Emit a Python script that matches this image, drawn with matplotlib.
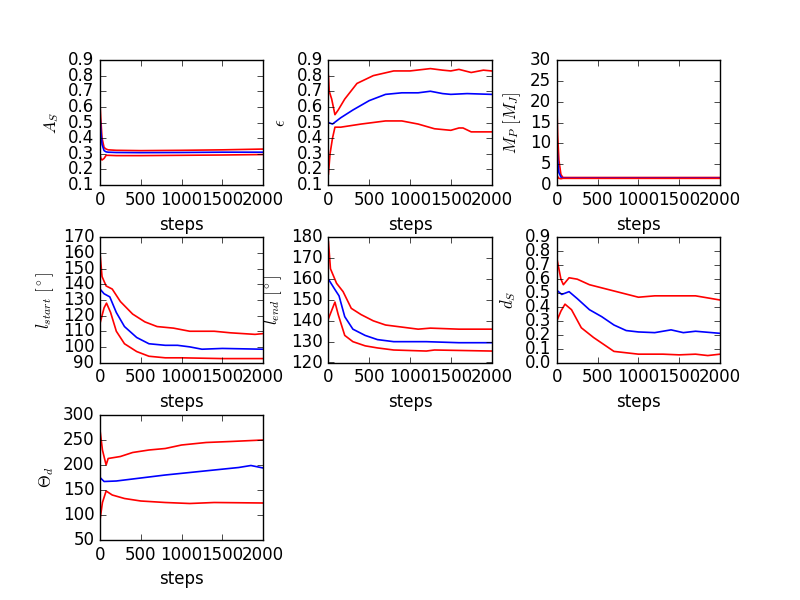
import matplotlib
matplotlib.use("Agg")
import matplotlib.pyplot as plt

plt.style.use('classic')

# ---- data ----
# A_S
as_up_x = [0, 10, 25, 50, 75, 100, 200, 500, 1000, 1500, 2000]
as_up_y = [0.62, 0.52, 0.40, 0.34, 0.33, 0.325, 0.322, 0.320, 0.322, 0.325, 0.33]
as_md_x = [0, 10, 25, 50, 75, 100, 200, 500, 1000, 1500, 2000]
as_md_y = [0.55, 0.45, 0.36, 0.32, 0.312, 0.31, 0.308, 0.307, 0.308, 0.31, 0.31]
as_lo_x = [0, 10, 25, 50, 75, 100, 200, 500, 1000, 1500, 2000]
as_lo_y = [0.30, 0.27, 0.26, 0.27, 0.29, 0.29, 0.288, 0.288, 0.290, 0.292, 0.295]

# epsilon
ep_up_x = [0, 10, 40, 80, 120, 200, 350, 550, 800, 1000, 1250, 1400, 1500, 1600, 1750, 1900, 2000]
ep_up_y = [0.80, 0.70, 0.65, 0.55, 0.58, 0.65, 0.75, 0.80, 0.83, 0.83, 0.845, 0.835, 0.83, 0.84, 0.82, 0.835, 0.83]
ep_md_x = [0, 50, 150, 300, 500, 700, 900, 1100, 1250, 1400, 1500, 1700, 2000]
ep_md_y = [0.50, 0.49, 0.53, 0.58, 0.64, 0.68, 0.69, 0.69, 0.70, 0.685, 0.68, 0.685, 0.68]
ep_lo_x = [0, 20, 50, 80, 150, 400, 700, 900, 1100, 1300, 1500, 1600, 1650, 1750, 2000]
ep_lo_y = [0.17, 0.30, 0.40, 0.47, 0.47, 0.49, 0.51, 0.51, 0.49, 0.46, 0.45, 0.465, 0.465, 0.44, 0.44]

# M_P
mp_up_x = [0, 10, 25, 50, 75, 100, 500, 1000, 1500, 2000]
mp_up_y = [20.0, 12.0, 6.0, 2.5, 1.8, 1.8, 1.8, 1.8, 1.8, 1.8]
mp_md_x = [0, 10, 25, 50, 75, 100, 500, 1000, 1500, 2000]
mp_md_y = [10.0, 6.0, 3.0, 1.9, 1.7, 1.7, 1.7, 1.7, 1.7, 1.7]
mp_lo_x = [0, 10, 25, 50, 75, 100, 500, 1000, 1500, 2000]
mp_lo_y = [2.5, 2.0, 1.6, 1.5, 1.6, 1.6, 1.6, 1.6, 1.6, 1.6]

# l_start
ls_up_x = [0, 25, 75, 150, 250, 400, 550, 700, 900, 1100, 1400, 1600, 1900, 2000]
ls_up_y = [160, 145, 139, 137, 129, 121, 116, 113, 112, 110, 110, 109, 108, 108.5]
ls_md_x = [0, 50, 120, 200, 300, 450, 600, 800, 950, 1100, 1250, 1500, 2000]
ls_md_y = [137, 134, 132, 122, 113, 106, 102, 101, 101, 100, 98.5, 99, 98.5]
ls_lo_x = [0, 50, 80, 130, 200, 300, 450, 600, 800, 1000, 1500, 2000]
ls_lo_y = [115, 125, 128, 122, 110, 102, 97, 94, 93, 93, 92.5, 92.5]

# l_end
le_up_x = [0, 25, 100, 180, 280, 400, 550, 700, 900, 1100, 1250, 1600, 2000]
le_up_y = [178, 165, 158, 154, 146, 143, 140, 138, 137, 136, 136.5, 136, 136]
le_md_x = [0, 80, 130, 200, 300, 450, 600, 800, 1200, 1600, 2000]
le_md_y = [160, 155, 152, 142, 136, 133, 131, 130, 130, 129.5, 129.5]
le_lo_x = [0, 50, 80, 120, 200, 300, 450, 600, 800, 1200, 1300, 2000]
le_lo_y = [141, 146, 149, 143, 133, 130, 128, 127, 126, 125.5, 126, 125.5]

# d_S
ds_up_x = [0, 50, 80, 150, 250, 400, 600, 800, 1000, 1200, 1500, 1700, 1900, 2000]
ds_up_y = [0.75, 0.60, 0.56, 0.61, 0.60, 0.56, 0.53, 0.50, 0.47, 0.48, 0.48, 0.48, 0.46, 0.45]
ds_md_x = [0, 60, 150, 250, 400, 550, 700, 850, 1000, 1200, 1400, 1550, 1700, 2000]
ds_md_y = [0.52, 0.49, 0.51, 0.46, 0.38, 0.33, 0.27, 0.23, 0.22, 0.215, 0.235, 0.215, 0.225, 0.21]
ds_lo_x = [0, 50, 100, 180, 300, 450, 600, 700, 850, 1000, 1300, 1500, 1700, 1850, 2000]
ds_lo_y = [0.30, 0.37, 0.42, 0.38, 0.25, 0.18, 0.12, 0.08, 0.07, 0.06, 0.06, 0.055, 0.06, 0.05, 0.06]

# Theta_d
th_up_x = [0, 30, 75, 100, 250, 400, 600, 800, 1000, 1300, 1600, 2000]
th_up_y = [270, 230, 200, 213, 217, 225, 230, 233, 240, 245, 247, 250]
th_md_x = [0, 50, 200, 400, 600, 800, 1100, 1400, 1700, 1850, 2000]
th_md_y = [175, 167, 168, 172, 176, 180, 185, 190, 195, 199, 194]
th_lo_x = [0, 30, 75, 150, 300, 500, 800, 1100, 1400, 2000]
th_lo_y = [90, 125, 148, 140, 133, 128, 125, 123, 125, 124]

xticks = [0, 500, 1000, 1500, 2000]

panels = [
    (r'$A_S$', (0.1, 0.9), [0.1, 0.2, 0.3, 0.4, 0.5, 0.6, 0.7, 0.8, 0.9],
     (as_up_x, as_up_y), (as_md_x, as_md_y), (as_lo_x, as_lo_y)),
    (r'$\epsilon$', (0.1, 0.9), [0.1, 0.2, 0.3, 0.4, 0.5, 0.6, 0.7, 0.8, 0.9],
     (ep_up_x, ep_up_y), (ep_md_x, ep_md_y), (ep_lo_x, ep_lo_y)),
    (r'$M_P\ [M_J]$', (0, 30), [0, 5, 10, 15, 20, 25, 30],
     (mp_up_x, mp_up_y), (mp_md_x, mp_md_y), (mp_lo_x, mp_lo_y)),
    (r'$l_{start}\ [^\circ]$', (90, 170), [90, 100, 110, 120, 130, 140, 150, 160, 170],
     (ls_up_x, ls_up_y), (ls_md_x, ls_md_y), (ls_lo_x, ls_lo_y)),
    (r'$l_{end}\ [^\circ]$', (120, 180), [120, 130, 140, 150, 160, 170, 180],
     (le_up_x, le_up_y), (le_md_x, le_md_y), (le_lo_x, le_lo_y)),
    (r'$d_S$', (0.0, 0.9), [0.0, 0.1, 0.2, 0.3, 0.4, 0.5, 0.6, 0.7, 0.8, 0.9],
     (ds_up_x, ds_up_y), (ds_md_x, ds_md_y), (ds_lo_x, ds_lo_y)),
    (r'$\Theta_d$', (50, 300), [50, 100, 150, 200, 250, 300],
     (th_up_x, th_up_y), (th_md_x, th_md_y), (th_lo_x, th_lo_y)),
]

fig, axes = plt.subplots(3, 3, figsize=(8, 6), dpi=100)
fig.patch.set_facecolor('white')
fig.subplots_adjust(left=0.125, right=0.9, top=0.9, bottom=0.1, wspace=0.4, hspace=0.42)

for i, ax in enumerate(axes.flat):
    if i >= len(panels):
        ax.set_visible(False)
        continue
    label, ylim, yt, up, md, lo = panels[i]
    ax.plot(up[0], up[1], color='red', lw=1.2)
    ax.plot(md[0], md[1], color='blue', lw=1.2)
    ax.plot(lo[0], lo[1], color='red', lw=1.2)
    ax.set_xlim(0, 2000)
    ax.set_ylim(*ylim)
    ax.set_xticks(xticks)
    ax.set_yticks(yt)
    if isinstance(yt[0], float):
        ax.set_yticklabels(['%.1f' % v for v in yt])
    ax.set_ylabel(label)
    ax.set_xlabel('steps')

fig.savefig('out.png', dpi=100, facecolor='white')
